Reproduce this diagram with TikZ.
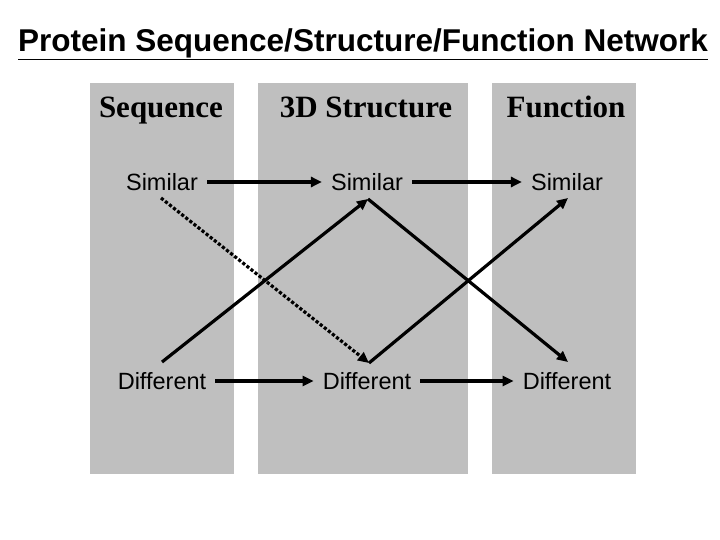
\documentclass[tikz,border=0pt]{standalone}
\usepackage{fontspec}
\setmainfont{Liberation Sans}
\newfontfamily\serif{Liberation Serif}
\usetikzlibrary{arrows.meta}
\begin{document}
\begin{tikzpicture}[x=1pt,y=-1pt,
  col/.style={fill=black!25,draw=none},
  hd/.style={font=\serif\bfseries\fontsize{31}{34}\selectfont,anchor=base},
  lb/.style={font=\fontsize{23.5}{26}\selectfont,inner sep=9pt},
  arr/.style={line width=3.2pt,-{Triangle[length=11pt,width=10pt]}},
  dot/.style={line width=3.2pt,dotted,-{Triangle[length=11pt,width=10pt]}}]
\useasboundingbox (0,0) rectangle (720,540);
\fill[col] (90,83) rectangle (234,474);
\fill[col] (258,83) rectangle (468,474);
\fill[col] (492,83) rectangle (636,474);
\node[font=\bfseries\fontsize{31.5}{34}\selectfont] (title) at (363,44) {\underline{Protein Sequence/Structure/Function Network}};
\node[hd] (h1) at (161,118) {Sequence};
\node[hd] (h2) at (366,118) {3D Structure};
\node[hd] (h3) at (566,118) {Function};
\node[lb] (s1) at (162,182) {Similar};
\node[lb] (s2) at (367,182) {Similar};
\node[lb] (s3) at (567,182) {Similar};
\node[lb] (d1) at (162,381) {Different};
\node[lb] (d2) at (367,381) {Different};
\node[lb] (d3) at (567,381) {Different};
\coordinate (a1) at (161,198);
\coordinate (b1) at (162,362);
\coordinate (a2) at (368,199);
\coordinate (b2) at (369,363);
\coordinate (a3) at (568,198);
\coordinate (b3) at (568,362);
\draw[arr] (s1) -- (s2);
\draw[arr] (s2) -- (s3);
\draw[arr] (d1) -- (d2);
\draw[arr] (d2) -- (d3);
\draw[dot] (a1) -- (b2);
\draw[arr] (b1) -- (a2);
\draw[arr] (a2) -- (b3);
\draw[arr] (b2) -- (a3);
\end{tikzpicture}
\end{document}
